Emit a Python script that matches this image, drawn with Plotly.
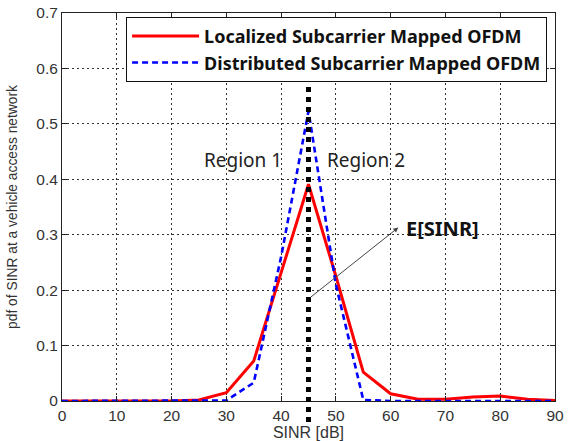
import plotly.graph_objects as go

# ---- data ----
sinr_db = [0, 5, 10, 15, 20, 25, 30, 35, 40, 45, 50, 55, 60, 65, 70, 75, 80, 85, 90]
localized = [0, 0, 0, 0, 0.0, 0.002, 0.015, 0.072, 0.23, 0.391, 0.225, 0.052, 0.013,
             0.003, 0.003, 0.007, 0.009, 0.003, 0.001]
distributed = [0, 0, 0, 0, 0, 0, 0.001, 0.033, 0.26, 0.523, 0.21, 0.002, 0,
               0, 0, 0, 0, 0, 0]
series_names = ["Localized Subcarrier Mapped OFDM", "Distributed Subcarrier Mapped OFDM"]
x_ticks = [0, 10, 20, 30, 40, 50, 60, 70, 80, 90]
y_ticks = [0, 0.1, 0.2, 0.3, 0.4, 0.5, 0.6, 0.7]
x_range = [0, 90]
y_range = [0, 0.7]

# E[SINR] marker line and annotation points
esinr_x = 45
esinr_line_y = [-0.038, 0.57]
arrow_tail = (45.1, 0.185)
arrow_head = (61.4, 0.313)
esinr_label = (69.5, 0.311)
region1_label = (33.0, 0.434)
region2_label = (55.5, 0.434)

fig = go.Figure()
fig.add_trace(go.Scatter(x=sinr_db, y=localized, mode="lines", name=series_names[0],
                         line=dict(color="#ff0000", width=3)))
fig.add_trace(go.Scatter(x=sinr_db, y=distributed, mode="lines", name=series_names[1],
                         line=dict(color="#0000ff", width=2.6, dash="6px,4px")))

def to_paper(v):
    return (v - y_range[0]) / (y_range[1] - y_range[0])

fig.add_shape(type="line", xref="x", yref="paper", x0=esinr_x, x1=esinr_x,
              y0=to_paper(esinr_line_y[0]), y1=to_paper(esinr_line_y[1]),
              line=dict(color="black", width=5, dash="dot"), layer="above")

fig.add_annotation(x=arrow_head[0], y=arrow_head[1], ax=arrow_tail[0], ay=arrow_tail[1],
                   xref="x", yref="y", axref="x", ayref="y", text="", showarrow=True,
                   arrowhead=2, arrowsize=1, arrowwidth=1, arrowcolor="#444444", standoff=0,
                   startstandoff=0)
fig.add_annotation(x=esinr_label[0], y=esinr_label[1], xref="x", yref="y", text="<b>E[SINR]</b>",
                   showarrow=False, font=dict(family="Noto Sans", size=20, color="#111111"))
fig.add_annotation(x=region1_label[0], y=region1_label[1], xref="x", yref="y", text="Region 1",
                   showarrow=False, font=dict(family="Noto Sans", size=19, color="#222222"))
fig.add_annotation(x=region2_label[0], y=region2_label[1], xref="x", yref="y", text="Region 2",
                   showarrow=False, font=dict(family="Noto Sans", size=19, color="#222222"))

axis_common = dict(showline=True, linecolor="#222222", linewidth=1, mirror="ticks",
                   ticks="inside", ticklen=5, tickcolor="#222222",
                   showgrid=True, gridcolor="#333333", griddash="2px,3px", gridwidth=1,
                   zeroline=False, automargin=False,
                   tickfont=dict(family="Liberation Sans, Arial", size=15.5, color="#333333"))

fig.update_xaxes(range=x_range, tickvals=x_ticks,
                 title=dict(text="SINR [dB]",
                            font=dict(family="Liberation Sans, Arial", size=16, color="#333333")),
                 **axis_common)
fig.update_yaxes(range=y_range, tickvals=y_ticks,
                 title=dict(text="pdf of SINR at a vehicle access network",
                            font=dict(family="Liberation Sans, Arial", size=13.8, color="#333333")),
                 **axis_common)

fig.update_layout(
    width=576, height=441,
    margin=dict(l=62, r=21, t=13, b=40),
    plot_bgcolor="white", paper_bgcolor="white",
    legend=dict(x=0.13, y=0.99, xanchor="left", yanchor="top",
                bordercolor="#111111", borderwidth=1, bgcolor="white",
                itemwidth=67,
                font=dict(family="Noto Sans", size=18, color="#111111", weight="bold")),
    showlegend=True,
)

fig.write_html("out.html", config={"displayModeBar": False},
               post_script="document.body.style.margin='0';document.body.style.padding='0';")
